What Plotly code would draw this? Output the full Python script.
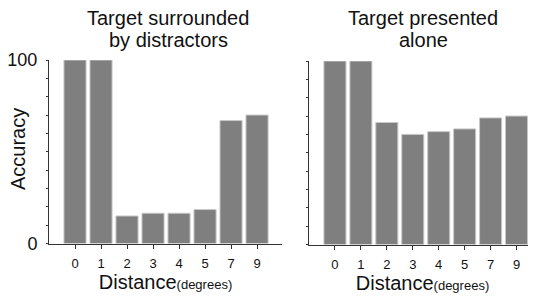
import plotly.graph_objects as go

categories = ["0", "1", "2", "3", "4", "5", "7", "9"]
surrounded = [100, 100, 15, 16.5, 16.5, 18.5, 67, 70]
alone = [100, 100, 66.5, 60, 61.5, 63, 69, 70]
title_left = ["Target surrounded", "by distractors"]
title_right = ["Target presented", "alone"]
ytick_vals = [0, 10, 20, 30, 40, 50, 60, 70, 80, 90, 100]
ytick_text = ["0", "", "", "", "", "", "", "", "", "", "100"]

W, H = 536, 297
OFF = 8  # page body margin offset
FONT = "Liberation Sans, Arial, sans-serif"

fig = go.Figure()
bar_style = dict(marker=dict(color="#7f7f7f", line=dict(color="#c8c8c8", width=1)),
                 width=0.85, showlegend=False, hoverinfo="skip")
fig.add_trace(go.Bar(x=categories, y=surrounded, xaxis="x", yaxis="y", **bar_style))
fig.add_trace(go.Bar(x=categories, y=alone, xaxis="x2", yaxis="y2", **bar_style))

def px(xp):
    return (xp - OFF) / W

def py(yp):
    return 1 - (yp - OFF) / H

xtitle = "Distance<span style='font-size:13px'>(degrees)</span>"
xcommon = dict(type="category", showline=True, linecolor="#333", linewidth=1,
               ticks="outside", ticklen=4, tickcolor="#333", showgrid=False,
               zeroline=False, automargin=False, ticklabelstandoff=4,
               tickfont=dict(size=13, color="#111", family=FONT),
               title=dict(text=xtitle, font=dict(size=20, color="#111", family=FONT), standoff=0))
ycommon = dict(range=[0, 100], showline=True, linecolor="#333", linewidth=1,
               ticks="outside", ticklen=2, tickcolor="#333", showgrid=False,
               zeroline=False, automargin=False, tickvals=ytick_vals, ticktext=ytick_text,
               ticklabelstandoff=5,
               tickfont=dict(size=18, color="#111", family=FONT))

tfont = dict(size=20, color="#111", family=FONT)
annotations = []
for cx, lines in ((168, title_left), (423, title_right)):
    for cy, line in zip((18, 40), lines):
        annotations.append(dict(text=line, x=px(cx), y=py(cy), xref="paper", yref="paper",
                                xanchor="center", yanchor="middle", showarrow=False,
                                font=tfont))
annotations.append(dict(text="Accuracy", x=px(18), y=py(149), xref="paper", yref="paper",
                        xanchor="center", yanchor="middle", showarrow=False,
                        textangle=-90, font=tfont))

fig.update_layout(
    width=W, height=H,
    margin=dict(l=0, r=0, t=0, b=0),
    plot_bgcolor="white", paper_bgcolor="white",
    font=dict(family=FONT, color="#111"),
    xaxis=dict(domain=[px(49), px(282)], range=[-1, 7.96], anchor="y", **xcommon),
    yaxis=dict(domain=[py(243.5), py(60)], anchor="x", **ycommon),
    xaxis2=dict(domain=[px(309), px(536)], range=[-1, 7.75], anchor="y2", **xcommon),
    yaxis2=dict(domain=[py(244.5), py(61)], anchor="x2", showticklabels=False, **ycommon),
    annotations=annotations,
)

fig.write_html("out.html")
